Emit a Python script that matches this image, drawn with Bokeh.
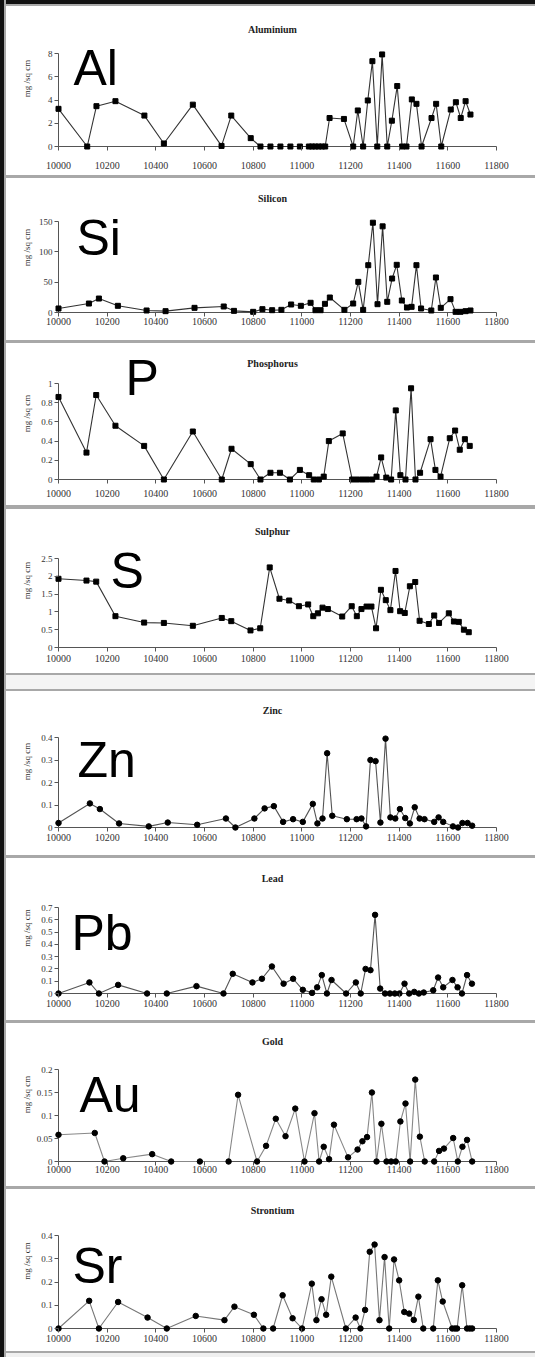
from bokeh.plotting import figure
from bokeh.models import Range1d, FixedTicker, Label, Div
from bokeh.layouts import column, row
from bokeh.embed import file_html
from bokeh.resources import INLINE

# ---------------- data ----------------
X_TICKS = [10000, 10200, 10400, 10600, 10800, 11000, 11200, 11400, 11600, 11800]
X_TICK_LABELS = ["10000", "10200", "10400", "10600", "10800", "11000", "11200", "11400", "11600", "11800"]
Y_LABEL = "mg /sq cm"

al_x = [10000, 10118, 10156, 10234, 10353, 10433, 10552, 10670, 10710, 10790, 10830, 10871, 10912, 10953, 10992,
        11029, 11042, 11055, 11069, 11083, 11096, 11114, 11173, 11211, 11230, 11252, 11271, 11290, 11310, 11330,
        11351, 11370, 11392, 11412, 11430, 11452, 11471, 11492, 11533, 11552, 11573, 11612, 11633, 11653, 11673, 11693]
al_y = [3.24, 0, 3.47, 3.9, 2.66, 0.26, 3.6, 0.05, 2.66, 0.72, 0, 0, 0, 0, 0,
        0, 0, 0, 0, 0, 0, 2.45, 2.37, 0, 3.1, 0, 3.96, 7.34, 0, 7.92,
        0, 2.22, 5.2, 0, 0, 4.05, 3.67, 0, 2.45, 3.67, 0, 3.18, 3.81, 2.45, 3.9, 2.75]
al_ticks = [0, 2, 4, 6, 8]
al_tick_labels = ["0", "2", "4", "6", "8"]

si_x = [10000, 10125, 10166, 10244, 10362, 10440, 10559, 10679, 10721, 10800, 10838, 10878, 10916, 10956, 10996,
        11036, 11056, 11077, 11095, 11115, 11175, 11211, 11232, 11252, 11273, 11292, 11311, 11332, 11351, 11371,
        11390, 11411, 11432, 11451, 11471, 11490, 11532, 11551, 11571, 11611, 11632, 11652, 11673, 11693]
si_y = [6.6, 14.8, 23, 11, 3.3, 2.2, 7.7, 9.9, 2.7, 1.1, 5.5, 3.8, 4.4, 13.2, 11,
        16, 3.8, 3.8, 14.3, 24.7, 4.4, 14.8, 50.5, 4.4, 78, 148, 13.7, 142, 17.6, 56,
        78.6, 19.8, 8.2, 9.3, 78, 6.6, 3.3, 57.7, 7.7, 22, 1.1, 1.1, 2.2, 3.3]
si_ticks = [0, 50, 100, 150]
si_tick_labels = ["0", "50", "100", "150"]

p_x = [10000, 10115, 10155, 10234, 10352, 10433, 10552, 10671, 10711, 10790, 10830, 10871, 10910, 10951, 10992,
       11030, 11049, 11070, 11090, 11111, 11168, 11207, 11227, 11248, 11268, 11289, 11307, 11326, 11347, 11367,
       11386, 11405, 11426, 11449, 11467, 11486, 11529, 11549, 11570, 11608, 11630, 11649, 11670, 11690]
p_y = [0.86, 0.28, 0.88, 0.56, 0.35, 0, 0.5, 0, 0.32, 0.16, 0, 0.07, 0.07, 0, 0.1,
       0.045, 0, 0, 0.03, 0.4, 0.48, 0, 0, 0, 0, 0, 0.03, 0.23, 0.02, 0,
       0.72, 0.045, 0, 0.95, 0, 0.07, 0.42, 0.1, 0.03, 0.43, 0.51, 0.31, 0.42, 0.35]
p_ticks = [0, 0.2, 0.4, 0.6, 0.8, 1]
p_tick_labels = ["0", "0.2", "0.4", "0.6", "0.8", "1"]

s_x = [10000, 10115, 10155, 10234, 10352, 10433, 10552, 10671, 10710, 10789, 10829, 10868, 10908, 10948, 10988,
       11026, 11047, 11066, 11085, 11107, 11166, 11205, 11226, 11245, 11266, 11286, 11305, 11325, 11345, 11364,
       11385, 11404, 11423, 11444, 11466, 11484, 11522, 11544, 11564, 11604, 11625, 11645, 11666, 11686]
s_y = [1.93, 1.88, 1.85, 0.88, 0.7, 0.69, 0.61, 0.83, 0.74, 0.48, 0.54, 2.25, 1.37, 1.32, 1.16,
       1.21, 0.88, 0.96, 1.12, 1.08, 0.87, 1.16, 0.88, 1.08, 1.15, 1.15, 0.54, 1.62, 1.33, 1.05,
       2.15, 1.02, 0.97, 1.72, 1.84, 0.75, 0.66, 0.9, 0.69, 0.96, 0.73, 0.72, 0.5, 0.43]
s_ticks = [0, 0.5, 1, 1.5, 2, 2.5]
s_tick_labels = ["0", "0.5", "1", "1.5", "2", "2.5"]

zn_x = [10000, 10129, 10170, 10249, 10371, 10449, 10570, 10688, 10727, 10805, 10847, 10885, 10923, 10964, 11004,
        11045, 11064, 11085, 11104, 11125, 11185, 11225, 11245, 11264, 11282, 11303, 11323, 11344, 11364, 11384,
        11403, 11425, 11444, 11464, 11484, 11504, 11544, 11562, 11581, 11621, 11642, 11660, 11681, 11700]
zn_y = [0.02, 0.107, 0.082, 0.018, 0.005, 0.022, 0.012, 0.04, 0, 0.04, 0.085, 0.095, 0.025, 0.037, 0.025,
        0.105, 0.018, 0.04, 0.33, 0.052, 0.037, 0.037, 0.04, 0.005, 0.3, 0.295, 0.022, 0.395, 0.045, 0.04,
        0.082, 0.042, 0.018, 0.09, 0.04, 0.037, 0.025, 0.045, 0.025, 0.005, 0, 0.02, 0.02, 0.008]
zn_ticks = [0, 0.1, 0.2, 0.3, 0.4]
zn_tick_labels = ["0", "0.1", "0.2", "0.3", "0.4"]

pb_x = [10000, 10127, 10166, 10245, 10364, 10445, 10567, 10678, 10716, 10797, 10836, 10877, 10925, 10964, 11004,
        11042, 11063, 11082, 11103, 11122, 11182, 11222, 11242, 11262, 11282, 11301, 11322, 11342, 11362, 11382,
        11401, 11422, 11441, 11462, 11481, 11501, 11540, 11560, 11581, 11619, 11640, 11658, 11679, 11699]
pb_y = [0, 0.09, 0, 0.07, 0, 0, 0.06, 0, 0.16, 0.09, 0.12, 0.22, 0.08, 0.12, 0.03,
        0.005, 0.05, 0.15, 0, 0.11, 0, 0.09, 0, 0.2, 0.19, 0.64, 0.04, 0, 0, 0,
        0, 0.08, 0, 0.013, 0, 0.008, 0.026, 0.13, 0.05, 0.11, 0.05, 0, 0.15, 0.08]
pb_ticks = [0, 0.1, 0.2, 0.3, 0.4, 0.5, 0.6, 0.7]
pb_tick_labels = ["0", "0.1", "0.2", "0.3", "0.4", "0.5", "0.6", "0.7"]

au_x = [10000, 10149, 10189, 10266, 10385, 10463, 10581, 10699, 10738, 10816, 10853, 10893, 10933, 10973, 11011,
        11052, 11071, 11090, 11112, 11132, 11190, 11229, 11249, 11268, 11288, 11307, 11327, 11348, 11367, 11386,
        11405, 11426, 11445, 11466, 11485, 11505, 11544, 11564, 11584, 11622, 11641, 11660, 11679, 11700]
au_y = [0.058, 0.062, 0, 0.007, 0.016, 0, 0, 0, 0.145, 0, 0.034, 0.093, 0.055, 0.115, 0,
        0.105, 0, 0.032, 0.005, 0.08, 0.009, 0.026, 0.044, 0.053, 0.15, 0, 0.082, 0, 0, 0,
        0.087, 0.126, 0, 0.178, 0.054, 0, 0, 0.023, 0.028, 0.051, 0, 0.032, 0.047, 0]
au_ticks = [0, 0.05, 0.1, 0.15, 0.2]
au_tick_labels = ["0", "0.05", "0.1", "0.15", "0.2"]

sr_x = [10000, 10126, 10166, 10245, 10366, 10445, 10564, 10682, 10723, 10803, 10842, 10882, 10921, 10962, 11001,
        11041, 11060, 11081, 11100, 11121, 11181, 11221, 11241, 11260, 11279, 11299, 11319, 11340, 11359, 11379,
        11400, 11421, 11441, 11460, 11479, 11499, 11540, 11559, 11579, 11618, 11629, 11638, 11659, 11679, 11690, 11700]
sr_y = [0, 0.119, 0, 0.114, 0.047, 0, 0.054, 0.036, 0.094, 0.059, 0, 0, 0.143, 0.044, 0,
        0.193, 0.036, 0.126, 0.059, 0.223, 0, 0.047, 0, 0.08, 0.33, 0.361, 0.036, 0.307, 0, 0.297,
        0.207, 0.071, 0.064, 0.037, 0.137, 0, 0, 0.207, 0.116, 0, 0, 0, 0.186, 0, 0, 0]
sr_ticks = [0, 0.1, 0.2, 0.3, 0.4]
sr_tick_labels = ["0", "0.1", "0.2", "0.3", "0.4"]

titles = ["Aluminium", "Silicon", "Phosphorus", "Sulphur", "Zinc", "Lead", "Gold", "Strontium"]
symbols = ["Al", "Si", "P", "S", "Zn", "Pb", "Au", "Sr"]

series = [
    (al_x, al_y, al_ticks, al_tick_labels),
    (si_x, si_y, si_ticks, si_tick_labels),
    (p_x, p_y, p_ticks, p_tick_labels),
    (s_x, s_y, s_ticks, s_tick_labels),
    (zn_x, zn_y, zn_ticks, zn_tick_labels),
    (pb_x, pb_y, pb_ticks, pb_tick_labels),
    (au_x, au_y, au_ticks, au_tick_labels),
    (sr_x, sr_y, sr_ticks, sr_tick_labels),
]

# ---------------- layout / styling (pixels) ----------------
FIG_LEFT = 6
FIG_W = 529
FRAME_LEFT = 54
X0_PX, X1_PX = 58, 496
PAD = 4
SYM_SHIFT = 18
SERIF = "Liberation Serif"
SANS = "Liberation Sans"

# (top, height, top-tick px, zero px, title px, symbol left px, symbol baseline px,
#  x label standoff, y axis-label standoff, marker, line colour)
geom = [
    (6, 169, 53, 146, 29, 73, 85, 11, 13, "square", "#333333"),
    (178, 162, 221, 312, 198, 76, 255, 1, 4, "square", "#333333"),
    (343, 162, 383, 479, 363, 125, 395, 6, 6, "square", "#333333"),
    (509, 164, 558, 647, 531, 110, 588, 3, 6, "square", "#333333"),
    (691, 164, 737, 827, 710, 77, 777, 2, 6, "circle", "#555555"),
    (858, 162, 907, 993, 878, 71, 950, 2, 6, "circle", "#555555"),
    (1023, 163, 1069, 1161, 1041, 79, 1112, 0, 2, "circle", "#888888"),
    (1189, 162, 1235, 1328, 1210, 72, 1283, 2, 6, "circle", "#777777"),
]

sx = (X1_PX - X0_PX) / (X_TICKS[-1] - X_TICKS[0])


def px_to_x(px):
    return X_TICKS[0] + (px - X0_PX) / sx


figs = []
for i, (xs, ys, ticks, tlabels) in enumerate(series):
    T, H, ytop, zero, title_px, sym_l, sym_b, xstand, ylstand, marker, lcol = geom[i]
    ymax = ticks[-1]
    k = (zero - ytop) / ymax
    mb = T + H - (zero + PAD)
    xr = Range1d(X_TICKS[0] - (X0_PX - FRAME_LEFT) / sx, X_TICKS[-1] + (FIG_LEFT + FIG_W - X1_PX) / sx)
    yr = Range1d(-PAD / k, ymax + (ytop - T) / k)
    p = figure(width=FIG_W, height=H, x_range=xr, y_range=yr, title=None,
               toolbar_location=None, output_backend="svg",
               min_border_left=FRAME_LEFT - FIG_LEFT, min_border_right=0,
               min_border_top=0, min_border_bottom=mb)
    p.outline_line_color = None
    p.background_fill_color = "white"
    p.border_fill_color = "white"
    p.xgrid.visible = False
    p.ygrid.visible = False

    xa = p.xaxis[0]
    xa.ticker = FixedTicker(ticks=X_TICKS)
    xa.major_label_overrides = {t: l for t, l in zip(X_TICKS, X_TICK_LABELS)}
    xa.axis_line_color = None
    xa.major_tick_in = PAD
    xa.major_tick_out = 0
    xa.major_tick_line_color = "#555555"
    xa.minor_tick_line_color = None
    xa.major_label_standoff = xstand
    xa.major_label_text_font = SERIF
    xa.major_label_text_font_size = "10px"
    xa.major_label_text_color = "#333333"

    ya = p.yaxis[0]
    ya.ticker = FixedTicker(ticks=ticks)
    ya.major_label_overrides = {t: l for t, l in zip(ticks, tlabels)}
    ya.axis_line_color = None
    ya.major_tick_in = PAD
    ya.major_tick_out = 0
    ya.major_tick_line_color = "#555555"
    ya.minor_tick_line_color = None
    ya.major_label_standoff = 2
    ya.major_label_text_font = SERIF
    ya.major_label_text_font_size = "9px"
    ya.major_label_text_color = "#333333"
    ya.axis_label = Y_LABEL
    ya.axis_label_text_font = SERIF
    ya.axis_label_text_font_size = "9px"
    ya.axis_label_text_font_style = "normal"
    ya.axis_label_text_color = "#333333"
    ya.axis_label_standoff = ylstand

    # axis lines at the data origin
    p.segment(x0=[X_TICKS[0]], y0=[ticks[0]], x1=[X_TICKS[0]], y1=[ymax], line_color="#555555", line_width=1)
    p.segment(x0=[X_TICKS[0]], y0=[ticks[0]], x1=[X_TICKS[-1]], y1=[ticks[0]], line_color="#555555", line_width=1)

    p.line(xs, ys, line_color=lcol, line_width=1.1)
    p.scatter(xs, ys, marker=marker, size=5.5 if marker == "circle" else 5,
              fill_color="black", line_color="black")

    p.add_layout(Label(x=px_to_x(272), y=(zero - title_px) / k, text=titles[i],
                       text_align="center", text_baseline="middle",
                       text_font=SERIF, text_font_size="10px", text_font_style="bold",
                       text_color="#222222"))
    p.add_layout(Label(x=px_to_x(sym_l), y=(zero - (sym_b - SYM_SHIFT)) / k, text=symbols[i],
                       text_align="left", text_baseline="alphabetic",
                       text_font=SANS, text_font_size="50px", text_color="black"))
    figs.append(p)


def block(h, color, w=FIG_W):
    return Div(text="", width=w, height=h, margin=0, styles={"background-color": color})


GRAY = "#a8a8a8"
items = [block(4, "#111111"), block(2, GRAY),
         figs[0], block(3, GRAY),
         figs[1], block(3, GRAY),
         figs[2], block(4, GRAY),
         figs[3], block(2, GRAY), block(14, "#f4f4f4"), block(2, GRAY),
         figs[4], block(3, GRAY),
         figs[5], block(3, GRAY),
         figs[6], block(3, GRAY),
         figs[7], block(2, GRAY), block(4, "#f0f0f0")]
col = column(*items, spacing=0)
layout = row(block(1357, "#111111", w=4), block(1357, GRAY, w=2), col, spacing=0)

open("out.html", "w").write(file_html(layout, INLINE))
